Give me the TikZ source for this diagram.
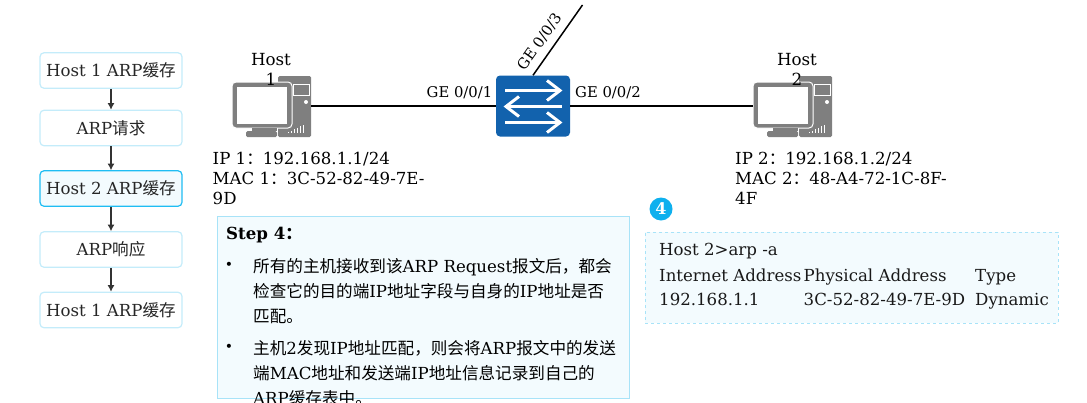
\documentclass[tikz,border=0pt]{standalone}
\usepackage{fontspec}
\setmainfont{DejaVu Serif}
\newfontfamily\cjk{Noto Sans CJK SC}
\newcommand{\zh}[1]{{\cjk #1}}
\usetikzlibrary{arrows.meta}
\definecolor{flowline}{HTML}{C4ECFA}
\definecolor{flowstrong}{HTML}{1FBDF3}
\definecolor{panelfill}{HTML}{F3FBFE}
\definecolor{panelline}{HTML}{A8E3F8}
\definecolor{swblue}{HTML}{1262AD}
\definecolor{icongrey}{HTML}{7F7F7F}
\definecolor{badge}{HTML}{0EB0EE}
\tikzset{
  flowbox/.style={draw=flowline,line width=1.2pt,fill=white,rounded corners=4pt,minimum width=142pt,minimum height=35.5pt,inner sep=0pt,font=\fontsize{16.6}{20}\selectfont,text=black!85},
  flowcur/.style={flowbox,draw=flowstrong,fill=panelfill},
  flowarrow/.style={draw=black!80,line width=1.1pt,-{Latex[length=6.5pt,width=7pt]}},
  link/.style={draw=black,line width=2pt},
  hostlabel/.style={font=\fontsize{16.7}{20}\selectfont,align=center,inner sep=0pt,text width=42pt},
  porttext/.style={font=\fontsize{14.8}{16}\selectfont,inner sep=0pt},
  infotext/.style={font=\fontsize{16.6}{20}\selectfont,align=left,anchor=north west,inner sep=0pt},
  steptext/.style={font=\fontsize{16.6}{25}\selectfont,align=left,anchor=north west,inner sep=0pt},
  bulletmark/.style={font=\fontsize{14}{14}\selectfont,anchor=center,inner sep=0pt},
  celltext/.style={font=\fontsize{16.6}{20}\selectfont,anchor=base west,inner sep=0pt,text=black!90},
  iconbox/.style={minimum width=79pt,minimum height=61pt,inner sep=0pt},
}
\newcommand{\hosticon}[2]{%
  \begin{scope}[shift={(#1,#2)}]
    \fill[icongrey,rounded corners=1.5pt] (46,0) rectangle (79,61);
    \draw[white,line width=.9pt] (61,8) rectangle (77,19);
    \fill[white] (74,26) circle (2pt);
    \foreach \k in {0,...,5} {\fill[white] (55.5+\k*3.1,48+8-\k*1.5) rectangle (56.7+\k*3.1,57);}
    \fill[icongrey,draw=white,line width=1pt,rounded corners=4pt] (0,6) rectangle (60,52);
    \fill[white] (5,11) rectangle (55,48);
    \fill[icongrey] (20,52) rectangle (45,55);
    \fill[icongrey,rounded corners=1.5pt] (14,55) rectangle (45,61);
  \end{scope}}
\begin{document}
\begin{tikzpicture}[x=1pt,y=-1pt]
\useasboundingbox (0,0) rectangle (1087,402);
% flow column
\node[flowbox] (f1) at (111,70.5) {Host 1 ARP\zh{缓存}};
\node[flowbox] (f2) at (111,128) {ARP\zh{请求}};
\node[flowbox,flowcur] (f3) at (111,188.5) {Host 2 ARP\zh{缓存}};
\node[flowbox] (f4) at (111,249.5) {ARP\zh{响应}};
\node[flowbox] (f5) at (111,310) {Host 1 ARP\zh{缓存}};
\draw[flowarrow] (f1) -- (f2);
\draw[flowarrow] (f2) -- (f3);
\draw[flowarrow] (f3) -- (f4);
\draw[flowarrow] (f4) -- (f5);
% hosts
\hosticon{232}{76}
\hosticon{753}{76}
\node[iconbox] (h1) at (271.5,106) {};
\node[iconbox] (h2) at (792.5,106) {};
\node[hostlabel] (h1l) at (271,69.5) {Host\\1};
\node[hostlabel] (h2l) at (797,69.5) {Host\\2};
% switch
\node[fill=swblue,rounded corners=4pt,minimum width=74pt,minimum height=61pt,inner sep=0pt] (sw) at (533,106) {};
\begin{scope}[white,line width=3pt,line cap=butt]
  \draw (505,90.5) -- (559,90.5);
  \draw (547,80.5) -- (560,90.5) -- (547,100.5);
  \draw (562,106.5) -- (506,106.5);
  \draw (519,96.5) -- (506,106.5) -- (519,116.5);
  \draw (505,122.5) -- (559,122.5);
  \draw (547,112.5) -- (560,122.5) -- (547,132.5);
\end{scope}
\coordinate (up) at (582.5,5);
\draw[link] (h1) -- (sw);
\draw[link] (sw) -- (h2);
\draw[link,line width=1.5pt] (sw.north) -- (up);
\node[porttext] (p1) at (459.5,93) {GE 0/0/1};
\node[porttext] (p2) at (608,93) {GE 0/0/2};
\node[porttext,rotate=55] (p3) at (539.5,42) {GE 0/0/3};
% address blocks
\node[infotext] (i1) at (212.5,151.5) {IP 1\zh{：}192.168.1.1/24\\MAC 1\zh{：}3C-52-82-49-7E-\\9D};
\node[infotext] (i2) at (735,151.5) {IP 2\zh{：}192.168.1.2/24\\MAC 2\zh{：}48-A4-72-1C-8F-\\4F};
% step panel
\node[draw=panelline,line width=1pt,fill=panelfill,minimum width=412pt,minimum height=182pt,inner sep=0pt] (panel) at (423,307) {};
\node[steptext,font=\fontsize{16.6}{25}\selectfont\bfseries] (st) at (226,227) {Step 4\zh{：}};
\node[bulletmark] (b1) at (229,266) {•};
\node[bulletmark] (b2) at (229,348) {•};
\node[steptext] (t1) at (253,258) {\zh{所有的主机接收到该}ARP Request\zh{报文后，都会}\\\zh{检查它的目的端}IP\zh{地址字段与自身的}IP\zh{地址是否}\\\zh{匹配。}};
\node[steptext] (t2) at (253,340) {\zh{主机}2\zh{发现}IP\zh{地址匹配，则会将}ARP\zh{报文中的发送}\\\zh{端}MAC\zh{地址和发送端}IP\zh{地址信息记录到自己的}\\ARP\zh{缓存表中。}};
% badge
\node[circle,fill=badge,minimum size=23pt,inner sep=0pt,text=white,font=\fontsize{16}{16}\selectfont\bfseries] (bd) at (661,209) {4};
% arp panel
\node[draw=panelline,dashed,line width=.8pt,fill=panelfill,minimum width=413pt,minimum height=91pt,inner sep=0pt] (arp) at (851.5,277.5) {};
\node[celltext] (c0) at (659,255) {Host 2>arp -a};
\node[celltext] (c1) at (659,281) {Internet Address};
\node[celltext] (c2) at (803.5,281) {Physical Address};
\node[celltext] (c3) at (975,281) {Type};
\node[celltext] (c4) at (659,305) {192.168.1.1};
\node[celltext] (c5) at (803.5,305) {3C-52-82-49-7E-9D};
\node[celltext] (c6) at (975,305) {Dynamic};
\end{tikzpicture}
\end{document}
